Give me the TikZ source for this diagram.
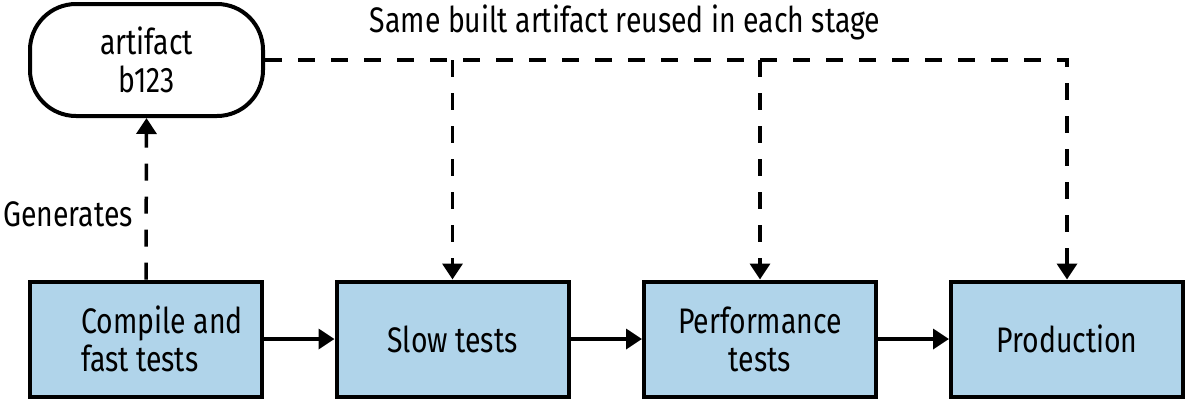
\documentclass[tikz,border=0pt]{standalone}
\usepackage{fontspec}
\setmainfont[FakeStretch=0.8]{Fira Sans}
\usetikzlibrary{arrows.meta}
\definecolor{boxblue}{HTML}{B0D4EA}
\begin{document}
\begin{tikzpicture}[x=1pt,y=-1pt,
  every node/.style={font=\fontsize{35.5}{38}\selectfont, inner sep=0pt},
  stagebox/.style={draw, line width=4pt, fill=boxblue, minimum width=232pt, minimum height=115pt, align=center},
  artbox/.style={draw, line width=4pt, rounded corners=46pt, minimum width=233pt, minimum height=112pt, align=center},
  flow/.style={line width=3.5pt, -{Triangle[length=16pt,width=20pt]}},
  reuse/.style={line width=3.5pt, dash pattern=on 17pt off 16pt, -{Triangle[length=16pt,width=20pt]}}
]
\useasboundingbox (0,0) rectangle (1187,400);
\node[artbox] (art) at (146.5,60) {artifact\\b123};
\node[stagebox] (b1) at (146,339) {};
\node[align=left] (t1) at (162,339) {Compile and\\fast tests};
\node[stagebox] (b2) at (452.5,339) {Slow tests};
\node[stagebox] (b3) at (760,339) {Performance\\tests};
\node[stagebox] (b4) at (1067,339) {Production};
\node (gen) at (68,214) {Generates};
\node (same) at (625,22) {Same built artifact reused in each stage};
\draw[flow] (b1) -- (b2);
\draw[flow] (b2) -- (b3);
\draw[flow] (b3) -- (b4);
\draw[reuse] (b1.north) -- (art.south);
\draw[reuse] (art.east) -| (b4.north);
\draw[reuse] (b2.north |- art.east) -- (b2.north);
\draw[reuse] (b3.north |- art.east) -- (b3.north);
\end{tikzpicture}
\end{document}
